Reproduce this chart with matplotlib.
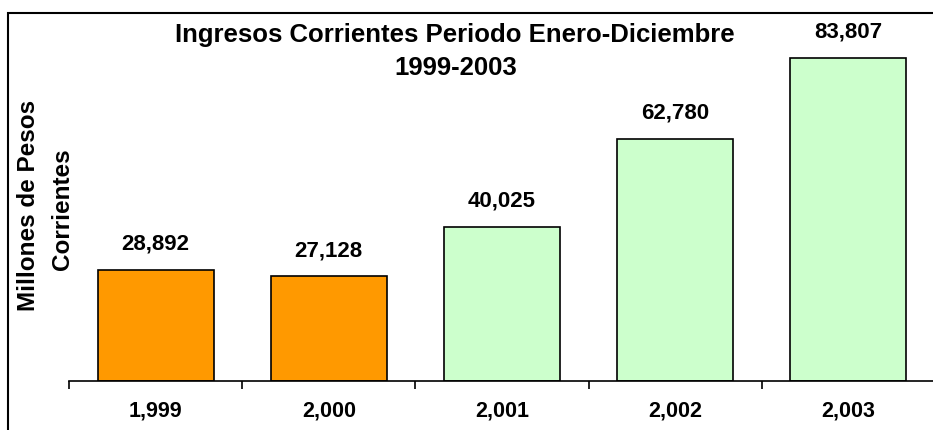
import matplotlib.pyplot as plt
from matplotlib.patches import Rectangle

plt.rcParams['font.family'] = ['Liberation Sans', 'DejaVu Sans']

# datos del grafico
anios = ['1,999', '2,000', '2,001', '2,002', '2,003']
ingresos = [28892, 27128, 40025, 62780, 83807]
colores = ['#FF9900', '#FF9900', '#CCFFCC', '#CCFFCC', '#CCFFCC']

fig = plt.figure(figsize=(9.33, 4.30), dpi=100)
ax = fig.add_axes([69 / 933, 49 / 430, 866 / 933, 368 / 430])

x = range(len(anios))
ax.bar(x, ingresos, width=0.67, color=colores, edgecolor='black', linewidth=1.2)

for i, v in enumerate(ingresos):
    ax.text(i, v + 6700, f'{v:,}', ha='center', va='center',
            fontsize=16, fontweight='bold')

ax.set_xlim(-0.5, 4.5)
ax.set_ylim(0, 95500)

for s in ['top', 'right', 'left']:
    ax.spines[s].set_visible(False)
ax.spines['bottom'].set_linewidth(1.2)
ax.set_yticks([])
ax.set_xticks(list(x))
ax.set_xticklabels(anios, fontsize=15.5, fontweight='bold')
ax.tick_params(axis='x', which='major', length=0, pad=14)
ax.set_xticks([i - 0.5 for i in range(len(anios) + 1)], minor=True)
ax.tick_params(axis='x', which='minor', length=6, width=1.2, direction='out')

fig.text(0.488, 1 - 35 / 430, 'Ingresos Corrientes Periodo Enero-Diciembre',
         ha='center', va='center', fontsize=18.5, fontweight='bold')
fig.text(0.488, 1 - 68 / 430, '1999-2003',
         ha='center', va='center', fontsize=18.5, fontweight='bold')

fig.text(29 / 933, 1 - 205 / 430, 'Millones de Pesos', rotation=90,
         ha='center', va='center', fontsize=17.5, fontweight='bold')
fig.text(62 / 933, 1 - 209 / 430, 'Corrientes', rotation=90,
         ha='center', va='center', fontsize=17.5, fontweight='bold')

# marco del grafico
fig.patches.append(Rectangle((8 / 933, -0.05), 1.0, 1.05 - 13 / 430,
                             transform=fig.transFigure, fill=False,
                             edgecolor='black', linewidth=1.5))

fig.savefig('out.png', dpi=100)
